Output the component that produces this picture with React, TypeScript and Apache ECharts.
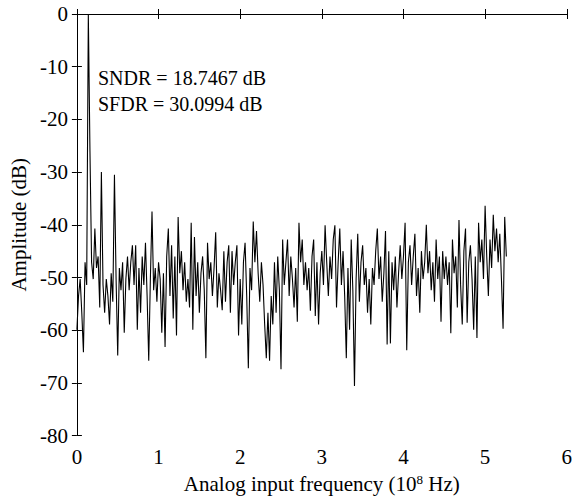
import React, { useEffect, useRef } from "react";
import * as echarts from "echarts";

const FREQ_STEP = 0.02; // 10^8 Hz per sample
const AMPLITUDE_DB: number[] = [
  -59.9, -53.5, -50.3, -56.7, -64.2, -47.1, -51.4, 0, -26, -47.1,
  -50.3, -40.7, -48.2, -46.0, -55.7, -30.0, -51.4, -56.7, -50.3, -53.5,
  -58.9, -49.2, -54.6, -30.5, -50.3, -64.8, -48.2, -52.4, -47.1, -60.5,
  -50.3, -46.0, -52.4, -47.1, -43.9, -51.4, -43.9, -59.9, -48.2, -56.7,
  -46.0, -51.4, -43.4, -53.5, -65.8, -50.3, -37.5, -52.4, -48.2, -54.6,
  -47.1, -50.3, -60.5, -49.2, -63.2, -46.0, -40.7, -53.5, -43.9, -57.8,
  -46.0, -61.0, -38.5, -49.2, -45.0, -52.4, -47.1, -54.6, -50.3, -55.7,
  -39.6, -59.9, -42.3, -53.5, -47.1, -56.7, -49.2, -46.0, -52.4, -65.3,
  -43.4, -50.3, -47.1, -53.5, -48.2, -41.4, -55.7, -49.2, -52.4, -56.2,
  -45.0, -54.6, -47.1, -43.9, -56.7, -45.0, -51.4, -47.1, -43.9, -61.0,
  -50.3, -58.9, -47.1, -43.4, -53.5, -67.2, -48.2, -52.4, -39.4, -47.1,
  -41.2, -49.2, -54.6, -47.1, -51.4, -58.9, -65.3, -56.7, -65.8, -53.5,
  -58.9, -47.1, -56.7, -46.0, -52.4, -67.4, -42.8, -51.4, -47.1, -42.8,
  -53.5, -46.0, -50.3, -55.7, -48.2, -58.4, -39.6, -47.1, -42.8, -51.4,
  -47.1, -52.4, -48.2, -56.3, -46.0, -42.8, -57.3, -47.1, -58.9, -49.2,
  -45.0, -51.4, -40.1, -47.1, -53.5, -46.0, -50.3, -42.8, -40.1, -55.7,
  -47.1, -40.7, -51.4, -45.0, -53.5, -65.3, -48.2, -59.9, -42.8, -52.4,
  -70.6, -50.3, -41.7, -54.6, -47.1, -43.9, -51.4, -48.2, -56.7, -50.3,
  -58.9, -48.2, -51.4, -45.0, -40.7, -50.3, -46.0, -54.6, -49.2, -41.2,
  -62.7, -45.0, -62.5, -47.1, -52.4, -46.0, -55.7, -49.2, -43.9, -50.3,
  -46.0, -39.6, -63.8, -47.1, -43.9, -51.4, -46.0, -41.7, -53.5, -48.2,
  -56.7, -45.0, -50.3, -47.1, -40.0, -49.2, -45.0, -52.4, -47.1, -54.6,
  -42.8, -50.3, -46.0, -58.4, -45.0, -50.3, -46.0, -51.4, -47.1, -60.6,
  -42.8, -49.2, -46.0, -55.7, -39.1, -51.4, -58.9, -45.0, -40.7, -58.6,
  -47.1, -43.9, -50.3, -59.9, -46.0, -61.5, -39.6, -47.1, -42.8, -50.3,
  -36.4, -46.0, -53.5, -42.8, -48.2, -38.1, -45.0, -40.7, -47.1, -41.7,
  -50.3, -59.7, -38.5, -46.0,
];
const ANNOTATIONS: string[] = ["SNDR = 18.7467 dB", "SFDR = 30.0994 dB"];
const X_NAME = "Analog input frequency (10{sup|8} Hz)";
const Y_NAME = "Amplitude (dB)";

const FONT = "'Liberation Serif', 'Times New Roman', serif";

export default function App() {
  const ref = useRef<HTMLDivElement>(null);
  useEffect(() => {
    if (!ref.current) return;
    const chart = echarts.init(ref.current, null, { renderer: "svg" });
    const data = AMPLITUDE_DB.map((v, i) => [+(i * FREQ_STEP).toFixed(4), v]);
    const axisLine = { show: true, lineStyle: { color: "#000", width: 1 } };
    const axisTick = { show: true, inside: true, length: 5, lineStyle: { color: "#000", width: 1 } };
    const labelStyle = { color: "#000", fontFamily: FONT, fontSize: 21 };
    chart.setOption({
      animation: false,
      backgroundColor: "#fff",
      grid: { left: 75, right: 7, top: 14, bottom: 59, containLabel: false },
      xAxis: [
        {
          type: "value",
          min: 0,
          max: 6,
          interval: 1,
          position: "bottom",
          axisLine,
          axisTick,
          splitLine: { show: false },
          axisLabel: { ...labelStyle, margin: 11 },
          name: X_NAME,
          nameLocation: "middle",
          nameGap: 35,
          nameTextStyle: {
            ...labelStyle,
            rich: { sup: { fontFamily: FONT, fontSize: 13, color: "#000", verticalAlign: "top", padding: [0, 0, 9, 0] } },
          },
        },
        {
          type: "value",
          min: 0,
          max: 6,
          interval: 1,
          position: "top",
          axisLine,
          axisTick,
          splitLine: { show: false },
          axisLabel: { show: false },
        },
      ],
      yAxis: [
        {
          type: "value",
          min: -80,
          max: 0,
          interval: 10,
          position: "left",
          axisLine,
          axisTick,
          splitLine: { show: false },
          axisLabel: { ...labelStyle, margin: 9 },
          name: Y_NAME,
          nameLocation: "middle",
          nameGap: 44,
          nameRotate: 90,
          nameTextStyle: { ...labelStyle },
        },
        {
          type: "value",
          min: -80,
          max: 0,
          interval: 10,
          position: "right",
          axisLine,
          axisTick,
          splitLine: { show: false },
          axisLabel: { show: false },
        },
      ],
      graphic: ANNOTATIONS.map((t, i) => ({
        type: "text",
        left: 98,
        top: 68 + i * 26,
        style: { text: t, fill: "#000", font: `20px ${FONT}` },
      })),
      series: [
        {
          type: "line",
          data,
          showSymbol: false,
          symbol: "none",
          lineStyle: { color: "#000", width: 1.1 },
          xAxisIndex: 0,
          yAxisIndex: 0,
        },
      ],
    });
    return () => chart.dispose();
  }, []);
  return <div ref={ref} style={{ position: "fixed", left: 0, top: 0, width: 575, height: 499 }} />;
}
